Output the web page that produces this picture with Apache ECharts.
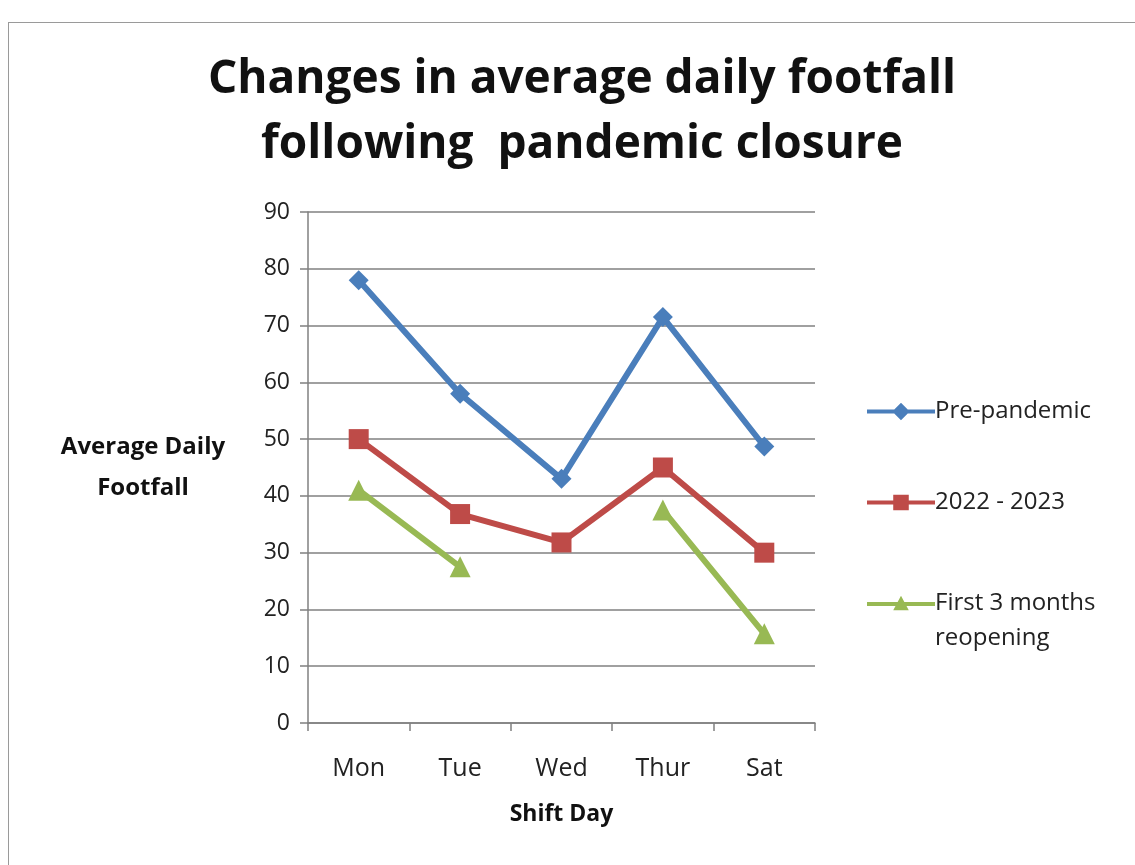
<!DOCTYPE html>
<html><head><meta charset="utf-8">
<script src="https://cdn.jsdelivr.net/npm/echarts@6/dist/echarts.min.js"></script>
<style>
html,body{margin:0;padding:0;background:#fff;}
#frame{position:absolute;left:8px;top:22px;width:1140px;height:860px;border:1.5px solid #9a9a9a;box-sizing:border-box;}
#c{position:absolute;left:0;top:0;width:1135px;height:865px;}
</style></head>
<body>
<div id="frame"></div>
<div id="c"></div>
<script>
const categories = ['Mon', 'Tue', 'Wed', 'Thur', 'Sat'];
const prePandemic = [78, 58, 43, 71.5, 48.7];
const y2022_2023 = [50, 36.8, 31.8, 45, 30];
const first3Months = [41, 27.5, null, 37.5, 15.7];
const seriesNames = ['Pre-pandemic', '2022 - 2023', 'First 3 months\nreopening'];
const yTicks = {min: 0, max: 90, interval: 10};

const font = '"Open Sans", Lato, sans-serif';
const colors = ['#4a7ebb', '#be4b48', '#98b954'];
const iconDiamond = 'path://M0,7 H70 V11 H0 Z M35,0 L44,9 L35,18 L26,9 Z';
const iconSquare = 'path://M0,0 L0.05,0 L0,0.05 Z M0,18 L0.05,18 L0,17.95 Z M0,7 H70 V11 H0 Z M27,1 H43 V17 H27 Z';
const iconTriangle = 'path://M0,0 L0.05,0 L0,0.05 Z M0,70 L0.05,70 L0,69.95 Z M0,15.5 H70 V19.5 H0 Z M35,9 L43,24 L27,24 Z';

const chart = echarts.init(document.getElementById('c'));
const legendBase = {
  orient: 'vertical', left: 862, itemWidth: 68, itemHeight: 18, itemGap: 0,
  textStyle: {fontFamily: font, fontSize: 24, color: '#222', padding: [0,0,0,-5], lineHeight: 35},
  selectedMode: false
};
chart.setOption({
  animation: false,
  backgroundColor: 'transparent',
  title: {
    text: 'Changes in average daily footfall\nfollowing  pandemic closure',
    top: 42, left: 577, textAlign: 'center',
    textStyle: {fontFamily: font, fontSize: 46, fontWeight: 'bold', color: '#111', lineHeight: 65}
  },
  legend: [
    Object.assign({}, legendBase, {top: 389, data: [{name: seriesNames[0], icon: iconDiamond}]}),
    Object.assign({}, legendBase, {top: 480, data: [{name: seriesNames[1], icon: iconSquare}]}),
    Object.assign({}, legendBase, {top: 581, itemHeight: 70, data: [{name: seriesNames[2], icon: iconTriangle}]})
  ],
  grid: {left: 308, right: 320, top: 212, bottom: 142},
  xAxis: {
    type: 'category', data: categories, boundaryGap: true,
    name: 'Shift Day', nameLocation: 'middle', nameGap: 80,
    nameTextStyle: {fontFamily: font, fontSize: 23, fontWeight: 'bold', color: '#111'},
    axisLine: {lineStyle: {color: '#808080', width: 1.5}},
    axisTick: {show: true, length: 8, alignWithLabel: false, lineStyle: {color: '#808080', width: 1.5}},
    axisLabel: {fontFamily: font, fontSize: 25, color: '#222', margin: 33}
  },
  yAxis: {
    type: 'value', min: yTicks.min, max: yTicks.max, interval: yTicks.interval,
    name: 'Average Daily\nFootfall', nameLocation: 'middle', nameRotate: 0, nameGap: 165,
    nameTextStyle: {fontFamily: font, fontSize: 24, fontWeight: 'bold', color: '#111', align: 'center', lineHeight: 41, padding: [18, 0, 0, 0]},
    axisLine: {show: true, lineStyle: {color: '#808080', width: 1.5}},
    axisTick: {show: true, length: 8, lineStyle: {color: '#808080', width: 1.5}},
    axisLabel: {fontFamily: font, fontSize: 23, color: '#222', margin: 18},
    splitLine: {lineStyle: {color: '#808080', width: 1.5}}
  },
  series: [
    {name: seriesNames[0], type: 'line', data: prePandemic, symbol: 'diamond', symbolSize: 20,
     itemStyle: {color: colors[0]}, lineStyle: {width: 6, color: colors[0]}},
    {name: seriesNames[1], type: 'line', data: y2022_2023, symbol: 'rect', symbolSize: 20,
     itemStyle: {color: colors[1]}, lineStyle: {width: 6, color: colors[1]}},
    {name: seriesNames[2], type: 'line', data: first3Months, symbol: 'triangle', symbolSize: 21, connectNulls: false,
     itemStyle: {color: colors[2]}, lineStyle: {width: 6, color: colors[2]}}
  ]
});
</script>
</body></html>
